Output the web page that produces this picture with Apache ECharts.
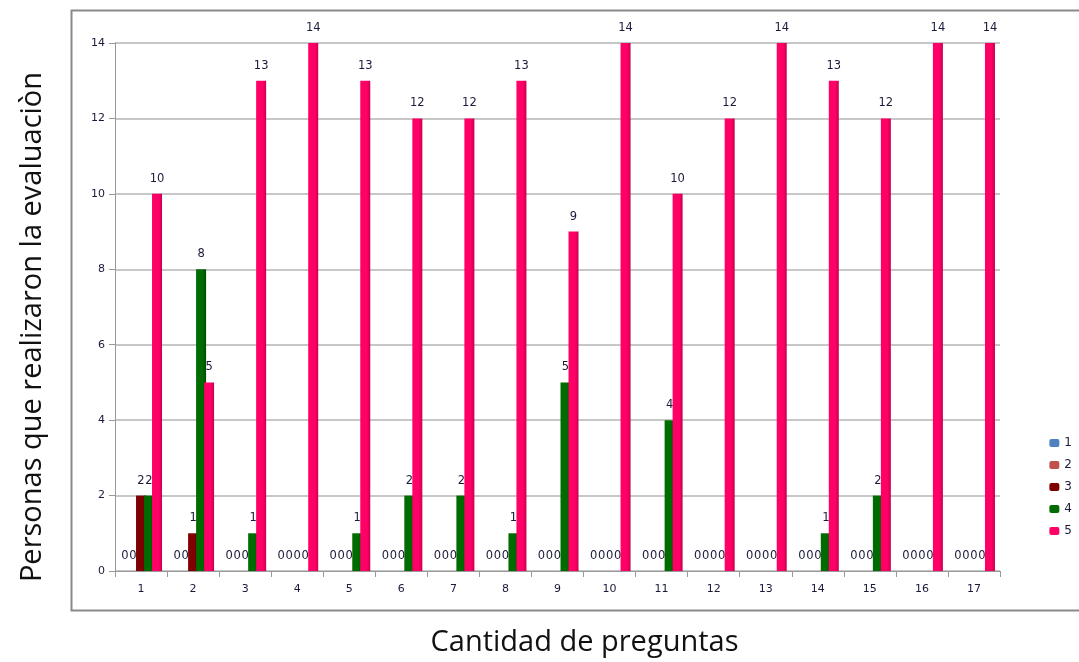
<!DOCTYPE html>
<html>
<head>
<meta charset="utf-8">
<script src="https://cdn.jsdelivr.net/npm/echarts@6/dist/echarts.min.js"></script>
<style>html,body{margin:0;padding:0;background:#fff;}#c{width:1079px;height:662px;}</style>
</head>
<body>
<div id="c"></div>
<script>
const categories = ['1','2','3','4','5','6','7','8','9','10','11','12','13','14','15','16','17'];
const seriesNames = ['1','2','3','4','5'];
const s1 = [0,0,0,0,0,0,0,0,0,0,0,0,0,0,0,0,0];
const s2 = [0,0,0,0,0,0,0,0,0,0,0,0,0,0,0,0,0];
const s3 = [2,1,0,0,0,0,0,0,0,0,0,0,0,0,0,0,0];
const s4 = [2,8,1,0,1,2,2,1,5,0,4,0,0,1,2,0,0];
const s5 = [10,5,13,14,13,12,12,13,9,14,10,12,14,13,12,14,14];
const colors = ['#4F81BD','#C0504D','#7F0000','#006B00','#FF0066'];
const darker = ['#3A6497','#9C3A37','#5A0000','#004A00','#C8004E'];

const chart = echarts.init(document.getElementById('c'));
const allData = [s1,s2,s3,s4,s5];
const series = allData.map((d,i)=>({
  name: seriesNames[i],
  type: 'bar',
  data: d,
  barWidth: 10,
  barGap: '-20%',
  itemStyle: {
    color: new echarts.graphic.LinearGradient(0,0,1,0,[
      {offset:0,color:colors[i]},{offset:0.65,color:colors[i]},{offset:1,color:darker[i]}
    ])
  },
  label: {
    show: true, position: 'top', distance: 9,
    fontFamily: 'DejaVu Sans', fontSize: 11.5, color: '#1a1a3a'
  }
}));

chart.setOption({
  animation: false,
  backgroundColor: '#fff',
  color: colors,
  grid: {left: 115, right: 79, top: 43, bottom: 90},
  legend: {
    orient: 'vertical', right: 2, top: 432,
    itemWidth: 10, itemHeight: 8, itemGap: 10,
    textStyle: {fontFamily: 'DejaVu Sans', fontSize: 12, color: '#1a1a3a'},
    data: seriesNames.map((n,i)=>({name:n, itemStyle:{color:colors[i]}}))
  },
  xAxis: {
    type: 'category', data: categories,
    name: 'Cantidad de preguntas', nameLocation: 'middle', nameGap: 57,
    nameTextStyle: {fontFamily: 'Open Sans', fontSize: 29, color: '#111', padding: [0,0,0,54]},
    axisLine: {lineStyle: {color: '#999'}},
    axisTick: {show: true, length: 6, lineStyle: {color: '#999'}},
    axisLabel: {fontFamily: 'DejaVu Sans', fontSize: 11, color: '#1a1a3a', margin: 13}
  },
  yAxis: {
    type: 'value', min: 0, max: 14, interval: 2,
    name: 'Personas que realizaron la evaluaciòn', nameLocation: 'middle', nameGap: 68,
    nameTextStyle: {fontFamily: 'Open Sans', fontSize: 29, color: '#111', padding: [0,40,0,0]},
    axisLine: {show: true, lineStyle: {color: '#999'}},
    axisTick: {show: true, length: 6, lineStyle: {color: '#999'}},
    axisLabel: {fontFamily: 'DejaVu Sans', fontSize: 11, color: '#1a1a3a', margin: 10},
    splitLine: {lineStyle: {color: '#b5b5b5', width: 1.5}}
  },
  graphic: [{
    type: 'rect', left: 69, top: 8, silent: true,
    shape: {width: 1020, height: 600},
    style: {fill: 'none', stroke: '#8a8a8a', lineWidth: 2}
  }],
  series: series
});
</script>
</body>
</html>
